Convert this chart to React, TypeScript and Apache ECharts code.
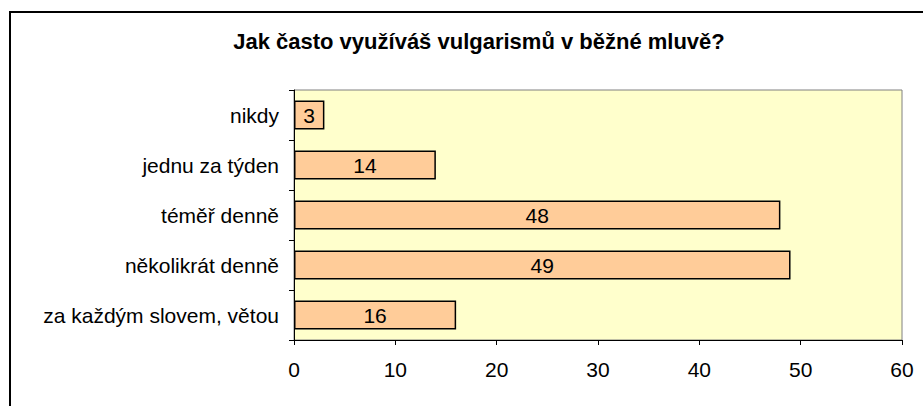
import React, { useEffect, useRef } from "react";
import * as echarts from "echarts";

const titleText = "Jak často využíváš vulgarismů v běžné mluvě?";
const categories = [
  "nikdy",
  "jednu za týden",
  "téměř denně",
  "několikrát denně",
  "za každým slovem, větou",
];
const values = [3, 14, 48, 49, 16];

export default function App() {
  const ref = useRef<HTMLDivElement>(null);
  useEffect(() => {
    if (!ref.current) return;
    const chart = echarts.init(ref.current, null, { renderer: "svg" });
    chart.setOption({
      animation: false,
      backgroundColor: "#ffffff",
      textStyle: { fontFamily: "Liberation Sans, Arial, sans-serif" },
      title: {
        text: titleText,
        left: 474,
        top: 25,
        textAlign: "center",
        textStyle: { fontSize: 22, fontWeight: "bold", color: "#000" },
      },
      graphic: [
        {
          type: "rect",
          shape: { x: 10, y: 12, width: 1000, height: 500 },
          style: { fill: "none", stroke: "#000", lineWidth: 2 },
          silent: true,
        },
      ],
      grid: {
        left: 294,
        top: 90,
        right: 21,
        bottom: 66,
        show: true,
        backgroundColor: "#FFFFCC",
        borderColor: "#808080",
        borderWidth: 1,
      },
      xAxis: {
        type: "value",
        min: 0,
        max: 60,
        interval: 10,
        axisLine: { show: true, lineStyle: { color: "#000", width: 1 } },
        axisTick: { show: true, length: 5, lineStyle: { color: "#000" } },
        splitLine: { show: false },
        axisLabel: { fontSize: 21, color: "#000", margin: 19 },
      },
      yAxis: {
        type: "category",
        data: categories,
        inverse: true,
        axisLine: { show: true, lineStyle: { color: "#000", width: 1 } },
        axisTick: { show: true, length: 5, lineStyle: { color: "#000" } },
        axisLabel: { fontSize: 21, color: "#000", margin: 15 },
      },
      series: [
        {
          type: "bar",
          data: values,
          barCategoryGap: "42%",
          itemStyle: { color: "#FFCC99", borderColor: "#000", borderWidth: 1.5 },
          label: {
            show: true,
            position: "inside",
            fontSize: 21,
            color: "#000",
          },
        },
      ],
    });
    return () => chart.dispose();
  }, []);
  return (
    <div
      ref={ref}
      style={{ position: "fixed", left: 0, top: 0, width: 923, height: 406 }}
    />
  );
}
